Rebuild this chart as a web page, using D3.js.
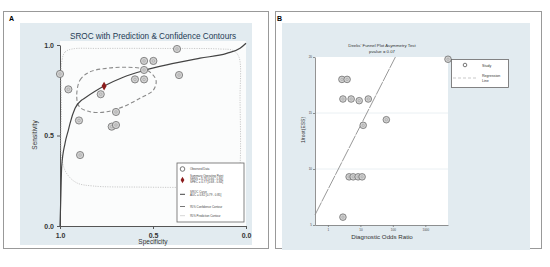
<!DOCTYPE html>
<html>
<head>
<meta charset="utf-8">
<script src="https://cdn.jsdelivr.net/npm/d3@7"></script>
<style>
  body { margin: 0; background: #fff; }
  text { font-family: "Liberation Sans", Arial, sans-serif; }
</style>
</head>
<body>
<div id="chart"></div>
<script>
// ---- panel A : SROC ----
var studySpec = [1.000, 0.955, 0.892, 0.898, 0.781, 0.699, 0.722, 0.699, 0.597, 0.548, 0.548, 0.548, 0.498, 0.371, 0.360];
var studySens = [0.840, 0.755, 0.392, 0.583, 0.728, 0.630, 0.549, 0.558, 0.810, 0.810, 0.862, 0.912, 0.912, 0.978, 0.834];
var summarySpec = 0.763, summarySens = 0.773;
var srocSpec = [1.0, 0.996, 0.991, 0.973, 0.955, 0.946, 0.919, 0.883, 0.87, 0.763, 0.660, 0.552, 0.426, 0.247, 0.104, 0.032, 0.0];
var srocSens = [0.0, 0.144, 0.328, 0.457, 0.530, 0.567, 0.650, 0.696, 0.705, 0.773, 0.822, 0.858, 0.890, 0.927, 0.954, 0.982, 1.01];
var confSpec = [0.910, 0.892, 0.839, 0.749, 0.641, 0.534, 0.484, 0.498, 0.570, 0.660, 0.749, 0.839, 0.896];
var confSens = [0.714, 0.807, 0.852, 0.871, 0.877, 0.862, 0.807, 0.751, 0.706, 0.659, 0.631, 0.631, 0.659];
var predSpec = [0.989, 0.973, 0.935, 0.785, 0.462, 0.140, 0.070, 0.038, 0.032, 0.032, 0.043, 0.086, 0.247, 0.570, 0.823, 0.909, 0.962, 0.989, 0.992];
var predSens = [0.917, 0.961, 0.978, 0.981, 0.981, 0.978, 0.970, 0.934, 0.696, 0.337, 0.260, 0.227, 0.215, 0.215, 0.221, 0.238, 0.287, 0.365, 0.641];
var ticksA = [0, 0.5, 1];

// ---- panel B : Deeks funnel ----
var dor = [2.7, 3.9, 2.9, 5.2, 9.2, 17.5, 12.2, 63, 4.5, 6.0, 8.5, 11.3, 2.9, 5000];
var invRootEss = [18.0, 18.0, 16.25, 16.25, 16.1, 16.25, 13.9, 14.4, 9.3, 9.3, 9.3, 9.3, 5.7, 19.8];
var regDor = [0.4, 120];
var regY = [5.9, 20];
var ticksBx = [1, 10, 100, 1000];
var ticksBy = [5, 10, 15, 20];

var bg = '#e2ebf0';

var svg = d3.select('#chart').append('svg')
    .attr('width', 550)
    .attr('height', 267)
    .style('display', 'block');

// panel frames
svg.append('rect').attr('x', 3.5).attr('y', 11.5).attr('width', 265).attr('height', 237)
    .attr('fill', 'none').attr('stroke', '#999');
svg.append('rect').attr('x', 275.5).attr('y', 11.5).attr('width', 266).attr('height', 237)
    .attr('fill', 'none').attr('stroke', '#999');
svg.append('text').attr('x', 9).attr('y', 21).style('font-size', '7px').style('font-weight', 'bold').text('A');
svg.append('text').attr('x', 277).attr('y', 21).style('font-size', '7px').style('font-weight', 'bold').text('B');

// ================= A =================
var gA = svg.append('g');
gA.append('rect').attr('x', 20).attr('y', 23).attr('width', 232).attr('height', 222).attr('fill', bg);
gA.append('rect').attr('x', 60).attr('y', 41).attr('width', 186).attr('height', 185).attr('fill', '#fbfcfc');

var xA = d3.scaleLinear().domain([1, 0]).range([60, 246]);
var yA = d3.scaleLinear().domain([0, 1]).range([226, 45]);

gA.append('text').attr('x', 153).attr('y', 39).attr('text-anchor', 'middle')
    .style('font-size', '8.2px').style('fill', '#243b55')
    .text('SROC with Prediction & Confidence Contours');

var axA = gA.append('g').attr('transform', 'translate(60,0)')
    .call(d3.axisLeft(yA).tickValues(ticksA).tickFormat(d3.format('.1f')).tickSize(3).tickSizeOuter(0));
var axB = gA.append('g').attr('transform', 'translate(0,226)')
    .call(d3.axisBottom(xA).tickValues(ticksA).tickFormat(d3.format('.1f')).tickSize(3).tickSizeOuter(0));
[axA, axB].forEach(function (a) {
  a.selectAll('path,line').attr('stroke', '#555');
  a.selectAll('text').style('font-size', '7px').style('fill', '#333').style('font-weight', 'bold')
      .style('font-family', '"Liberation Sans", Arial, sans-serif');
});
axB.selectAll('text').attr('dy', '0.9em');

gA.append('text').attr('x', 153).attr('y', 244).attr('text-anchor', 'middle')
    .style('font-size', '6.5px').style('fill', '#333').text('Specificity');
gA.append('text').attr('text-anchor', 'middle')
    .attr('transform', 'translate(37,135)rotate(-90)')
    .style('font-size', '6.5px').style('fill', '#333').text('Sensitivity');

var lineA = d3.line().x(function (d) { return xA(d[0]); }).y(function (d) { return yA(d[1]); });

gA.append('path')
    .attr('d', lineA.curve(d3.curveCatmullRomClosed.alpha(0.5))(d3.zip(predSpec, predSens)))
    .attr('fill', 'none').attr('stroke', '#c4c4c4').attr('stroke-width', 0.9).attr('stroke-dasharray', '1.2,1.2');
gA.append('path')
    .attr('d', lineA.curve(d3.curveCatmullRomClosed.alpha(0.5))(d3.zip(confSpec, confSens)))
    .attr('fill', 'none').attr('stroke', '#8a8a8a').attr('stroke-width', 1.1).attr('stroke-dasharray', '4,2.5');
gA.append('path')
    .attr('d', lineA.curve(d3.curveMonotoneX)(d3.zip(srocSpec, srocSens)))
    .attr('fill', 'none').attr('stroke', '#444').attr('stroke-width', 1.2);

var ptsA = gA.selectAll('g.pt').data(d3.zip(studySpec, studySens)).enter().append('g')
    .attr('transform', function (d) { return 'translate(' + xA(d[0]) + ',' + yA(d[1]) + ')'; });
ptsA.append('circle').attr('r', 3.6).attr('fill', '#d2d2d2').attr('stroke', '#707070').attr('stroke-width', 0.8);
ptsA.append('circle').attr('r', 1.3).attr('fill', 'none').attr('stroke', '#999').attr('stroke-width', 0.5);

gA.append('path')
    .attr('d', d3.symbol(d3.symbolDiamond, 22)())
    .attr('transform', 'translate(' + xA(summarySpec) + ',' + yA(summarySens) + ')')
    .attr('fill', '#8b1c1c');

// legend A
var lg = gA.append('g');
lg.append('rect').attr('x', 177).attr('y', 163).attr('width', 67).attr('height', 59)
    .attr('fill', '#fff').attr('stroke', '#666').attr('stroke-width', 0.8);
lg.append('circle').attr('cx', 182.5).attr('cy', 169).attr('r', 2.3).attr('fill', '#fff').attr('stroke', '#555').attr('stroke-width', 0.8);
lg.append('path').attr('d', d3.symbol(d3.symbolDiamond, 12)()).attr('transform', 'translate(182.5,180)').attr('fill', '#8b1c1c');
lg.append('line').attr('x1', 180).attr('x2', 185).attr('y1', 194.3).attr('y2', 194.3).attr('stroke', '#444').attr('stroke-width', 1);
lg.append('line').attr('x1', 180).attr('x2', 185).attr('y1', 206.5).attr('y2', 206.5).attr('stroke', '#777').attr('stroke-width', 1);
lg.append('line').attr('x1', 180).attr('x2', 185).attr('y1', 215.7).attr('y2', 215.7).attr('stroke', '#ccc').attr('stroke-width', 0.8);
var legA = [
  ['Observed Data', 170.2],
  ['Summary Operating Point', 177.2],
  ['SENS = 0.76 [0.66 - 0.84]', 179.9],
  ['SPEC = 0.77 [0.68 - 0.84]', 182.6],
  ['SROC Curve', 193.2],
  ['AUC = 0.82 [0.79 - 0.85]', 196.2],
  ['95% Confidence Contour', 207.6],
  ['95% Prediction Contour', 216.8]
];
lg.selectAll('text.l').data(legA).enter().append('text')
    .attr('x', 190).attr('y', function (d) { return d[1]; })
    .style('font-size', '2.9px').style('fill', '#444').text(function (d) { return d[0]; });

// ================= B =================
var gB = svg.append('g');
gB.append('rect').attr('x', 282).attr('y', 23).attr('width', 248).attr('height', 227).attr('fill', bg);
gB.append('rect').attr('x', 315).attr('y', 57).attr('width', 133).attr('height', 168).attr('fill', '#fff');

var xB = d3.scaleLog().domain([0.4, 5000]).range([315, 448]);
var yB = d3.scaleLinear().domain([5, 20]).range([225, 57]);

gB.selectAll('line.grid').data(ticksBy.slice(1, 3)).enter().append('line')
    .attr('x1', 315).attr('x2', 448)
    .attr('y1', function (d) { return yB(d); }).attr('y2', function (d) { return yB(d); })
    .attr('stroke', '#e4ecf0').attr('stroke-width', 0.8);

gB.append('text').attr('x', 382).attr('y', 47).attr('text-anchor', 'middle')
    .style('font-size', '4.3px').style('fill', '#333').text("Deeks' Funnel Plot Asymmetry Test");
gB.append('text').attr('x', 382).attr('y', 53).attr('text-anchor', 'middle')
    .style('font-size', '4.3px').style('fill', '#333').text('pvalue =  0.07');

var byAx = gB.append('g').attr('transform', 'translate(315,0)')
    .call(d3.axisLeft(yB).tickValues(ticksBy).tickSize(2).tickSizeOuter(0));
var bxAx = gB.append('g').attr('transform', 'translate(0,225)')
    .call(d3.axisBottom(xB).tickValues(ticksBx).tickFormat(d3.format('d')).tickSize(2).tickSizeOuter(0));
[byAx, bxAx].forEach(function (a) {
  a.selectAll('path,line').attr('stroke', '#777').attr('stroke-width', 0.8);
  a.selectAll('text').style('font-size', '3px').style('fill', '#444').style('font-family', '"Liberation Sans", Arial, sans-serif');
});
byAx.selectAll('text').attr('x', -3);
bxAx.selectAll('text').attr('y', 4);

gB.append('text').attr('x', 382).attr('y', 239).attr('text-anchor', 'middle')
    .style('font-size', '6.2px').style('fill', '#333').text('Diagnostic Odds Ratio');
gB.append('text').attr('text-anchor', 'middle')
    .attr('transform', 'translate(305,130)rotate(-90)')
    .style('font-size', '5px').style('fill', '#333').text('1/root(ESS)');

var lineB = d3.line().x(function (d) { return xB(d[0]); }).y(function (d) { return yB(d[1]); });
gB.append('path').attr('d', lineB(d3.zip(regDor, regY)))
    .attr('fill', 'none').attr('stroke', '#8d8d8d').attr('stroke-width', 0.9).attr('stroke-dasharray', '14,1');

var ptsB = gB.selectAll('g.pt').data(d3.zip(dor, invRootEss)).enter().append('g')
    .attr('transform', function (d) { return 'translate(' + xB(d[0]) + ',' + yB(d[1]) + ')'; });
ptsB.append('circle').attr('r', 3.3).attr('fill', '#d2d2d2').attr('stroke', '#707070').attr('stroke-width', 0.8);
ptsB.append('circle').attr('r', 1.2).attr('fill', 'none').attr('stroke', '#999').attr('stroke-width', 0.5);

// legend B
var lgB = gB.append('g');
lgB.append('rect').attr('x', 451.5).attr('y', 59.5).attr('width', 57).attr('height', 28)
    .attr('fill', '#fff').attr('stroke', '#666').attr('stroke-width', 0.8);
lgB.append('circle').attr('cx', 465).attr('cy', 65).attr('r', 1.8).attr('fill', '#fff').attr('stroke', '#555').attr('stroke-width', 0.8);
lgB.append('line').attr('x1', 453).attr('x2', 478).attr('y1', 78).attr('y2', 78)
    .attr('stroke', '#bbb').attr('stroke-width', 0.8).attr('stroke-dasharray', '3,2');
lgB.append('text').attr('x', 482).attr('y', 66.5).style('font-size', '3.6px').style('fill', '#333').text('Study');
lgB.append('text').attr('x', 482).attr('y', 76.5).style('font-size', '3.6px').style('fill', '#333').text('Regression');
lgB.append('text').attr('x', 482).attr('y', 81.5).style('font-size', '3.6px').style('fill', '#333').text('Line');
</script>
</body>
</html>
